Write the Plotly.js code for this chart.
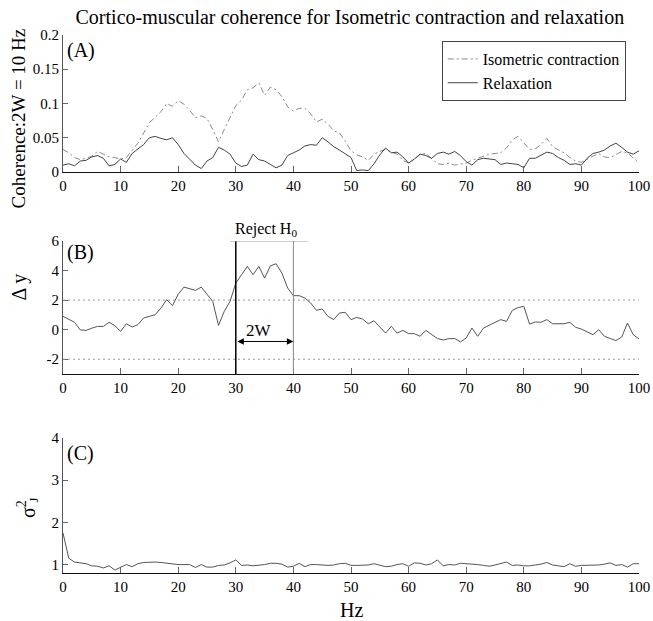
<!DOCTYPE html>
<html><head><meta charset="utf-8">
<script src="https://cdn.plot.ly/plotly-3.0.1.min.js"></script>
<style>html,body{margin:0;padding:0;background:#fff}#chart{width:653px;height:621px}</style>
</head><body><div id="chart"></div>
<script>
const freqHz = [0,1,2,3,4,5,6,7,8,9,10,11,12,13,14,15,16,17,18,19,20,21,22,23,24,25,26,27,28,29,30,31,32,33,34,35,36,37,38,39,40,41,42,43,44,45,46,47,48,49,50,51,52,53,54,55,56,57,58,59,60,61,62,63,64,65,66,67,68,69,70,71,72,73,74,75,76,77,78,79,80,81,82,83,84,85,86,87,88,89,90,91,92,93,94,95,96,97,98,99,100];

const isometricCoh = [0.033,0.028,0.021,0.018,0.020,0.023,0.030,0.026,0.022,0.021,0.019,0.021,0.032,0.042,0.057,0.072,0.080,0.088,0.100,0.096,0.104,0.099,0.090,0.079,0.082,0.078,0.062,0.044,0.062,0.080,0.097,0.105,0.120,0.123,0.130,0.112,0.124,0.120,0.110,0.095,0.089,0.093,0.093,0.085,0.073,0.077,0.070,0.060,0.057,0.045,0.031,0.025,0.022,0.017,0.026,0.030,0.033,0.029,0.026,0.017,0.013,0.018,0.026,0.027,0.020,0.012,0.011,0.013,0.010,0.012,0.013,0.017,0.020,0.022,0.026,0.027,0.028,0.035,0.047,0.052,0.043,0.033,0.034,0.040,0.049,0.037,0.032,0.028,0.021,0.016,0.014,0.019,0.023,0.027,0.022,0.021,0.026,0.030,0.028,0.021,0.013];

const relaxationCoh = [0.010,0.012,0.009,0.016,0.017,0.022,0.024,0.020,0.009,0.011,0.019,0.014,0.027,0.034,0.040,0.050,0.052,0.049,0.047,0.050,0.040,0.027,0.018,0.010,0.005,0.016,0.021,0.036,0.032,0.026,0.013,0.008,0.010,0.026,0.018,0.016,0.011,0.006,0.010,0.024,0.028,0.032,0.038,0.040,0.039,0.050,0.044,0.037,0.032,0.027,0.021,0.002,0.003,0.002,0.012,0.025,0.035,0.028,0.029,0.022,0.013,0.019,0.026,0.024,0.020,0.027,0.029,0.026,0.030,0.024,0.015,0.010,0.018,0.020,0.019,0.018,0.011,0.013,0.012,0.011,0.006,0.020,0.020,0.024,0.029,0.027,0.021,0.017,0.011,0.012,0.010,0.020,0.027,0.029,0.032,0.038,0.042,0.036,0.029,0.026,0.031];

const deltaY = [0.90,0.68,0.50,-0.02,-0.05,0.10,0.22,0.22,0.50,0.27,-0.12,0.40,0.18,0.34,0.79,0.90,1.01,1.46,2.03,1.62,2.40,2.88,2.75,2.66,2.88,2.40,1.91,0.29,1.24,1.91,3.15,3.72,4.28,3.72,4.28,3.49,4.32,4.46,3.83,2.82,2.30,2.30,2.14,1.80,1.31,1.40,0.90,0.68,1.13,1.17,0.68,0.83,0.72,0.40,0.60,0.18,-0.23,0.22,-0.23,-0.05,-0.27,-0.27,-0.45,-0.05,-0.34,-0.60,-0.70,-0.61,-0.60,-0.83,-0.56,0.11,-0.45,0.10,0.30,0.50,0.68,0.56,1.30,1.49,1.58,0.38,0.52,0.50,0.68,0.40,0.38,0.40,0.50,0.16,0.04,-0.15,-0.34,0.00,-0.45,-0.60,-0.74,-0.50,0.45,-0.34,-0.63];

const sigmaJ2 = [1.75,1.15,1.06,1.04,1.02,0.97,0.96,0.92,0.97,0.87,0.94,1.00,0.95,1.02,1.05,1.06,1.06,1.05,1.03,1.02,1.00,1.00,1.00,0.93,1.00,0.94,0.94,0.98,0.99,1.04,1.11,0.98,0.99,0.97,0.98,1.00,1.03,1.03,1.01,0.94,0.96,1.03,0.95,1.00,1.00,0.99,0.98,0.99,1.02,1.03,0.98,0.98,0.98,0.99,1.02,0.99,0.95,0.96,1.00,1.02,0.96,1.04,1.03,0.99,1.02,1.11,0.97,1.00,0.99,1.03,1.02,1.02,1.00,0.98,0.96,0.99,1.02,1.06,0.98,0.99,0.97,0.97,0.99,1.01,1.05,0.99,0.97,0.95,1.02,0.96,0.98,0.98,0.99,0.99,1.01,1.04,0.98,1.00,0.94,1.02,1.02];

const xTicks = [0,10,20,30,40,50,60,70,80,90,100];
const cohTicks = [0,0.05,0.1,0.15,0.2];
const cohTickText = ['0','0.05','0.1','0.15','0.2'];
const dyTicks = [-2,0,2,4,6];
const dyTickText = ['-2','0','2','4','6'];
const sigTicks = [1,2,3,4];
const thresholds = [2,-2];
const rejectStart = 30, rejectEnd = 40;
const rejectBarFrom = 29, rejectBarTo = 42.5;
const arrowLevel = -0.8;

const FONT = '"Liberation Serif", "Times New Roman", Times, serif';

const traces = [
  {x: freqHz, y: isometricCoh, xaxis:'x', yaxis:'y', mode:'lines', name:'Isometric contraction',
   line:{color:'#8a8a8a', width:1, dash:'6px,3px,2px,3px'}},
  {x: freqHz, y: relaxationCoh, xaxis:'x', yaxis:'y', mode:'lines', name:'Relaxation',
   line:{color:'#444', width:1}},
  {x: freqHz, y: deltaY, xaxis:'x2', yaxis:'y2', mode:'lines', showlegend:false,
   line:{color:'#555', width:1}},
  {x: freqHz, y: sigmaJ2, xaxis:'x3', yaxis:'y3', mode:'lines', showlegend:false,
   line:{color:'#555', width:1}}
];

function xa(anchor){
  return {anchor:anchor, range:[0,100], tickvals:xTicks, ticks:'inside', ticklen:6, tickcolor:'#666',
    showline:true, linecolor:'#111', linewidth:1, showgrid:false, zeroline:false,
    tickfont:{family:FONT, size:15, color:'#000'}, fixedrange:true};
}
function ya(anchor, dom, range, tv, tt){
  const o = {anchor:anchor, domain:dom, range:range, tickvals:tv, ticks:'inside', ticklen:5, tickcolor:'#666',
    showline:true, linecolor:'#555', linewidth:1, showgrid:false, zeroline:false,
    tickfont:{family:FONT, size:15, color:'#000'}};
  if (tt) o.ticktext = tt;
  return o;
}

const shapes = [];
thresholds.forEach(t => shapes.push({type:'line', xref:'x2', yref:'y2', x0:0, x1:100, y0:t, y1:t,
  line:{color:'#999', width:1, dash:'2px,3px'}}));
shapes.push({type:'line', xref:'x2', yref:'y2', x0:rejectStart, x1:rejectStart, y0:-3, y1:6, line:{color:'#000', width:1.5}});
shapes.push({type:'line', xref:'x2', yref:'y2', x0:rejectEnd, x1:rejectEnd, y0:-3, y1:6, line:{color:'#888', width:1}});
shapes.push({type:'line', xref:'x2', yref:'y2', x0:rejectBarFrom, x1:rejectBarTo, y0:6, y1:6, line:{color:'#999', width:1}});

const annotations = [
  {text:'(A)', xref:'paper', yref:'paper', x:0.004, y:0.972, xanchor:'left', yanchor:'middle', showarrow:false, font:{family:FONT, size:20, color:'#000'}},
  {text:'(B)', xref:'paper', yref:'paper', x:0.004, y:0.5957, xanchor:'left', yanchor:'middle', showarrow:false, font:{family:FONT, size:20, color:'#000'}},
  {text:'(C)', xref:'paper', yref:'paper', x:0.004, y:0.223, xanchor:'left', yanchor:'middle', showarrow:false, font:{family:FONT, size:20, color:'#000'}},
  {text:'Coherence:2W = 10 Hz', xref:'paper', yref:'paper', x:-0.078, y:0.845, xanchor:'center', yanchor:'middle', textangle:-90, showarrow:false, font:{family:FONT, size:19, color:'#000'}},
  {text:'Δ y', xref:'paper', yref:'paper', x:-0.075, y:0.532, xanchor:'center', yanchor:'middle', textangle:-90, showarrow:false, font:{family:FONT, size:20, color:'#000'}},
  {text:'σ<sup>2</sup>', xref:'paper', yref:'paper', x:-0.064, y:0.119, xanchor:'center', yanchor:'middle', textangle:-90, showarrow:false, font:{family:FONT, size:20, color:'#000'}},
  {text:'J', xref:'paper', yref:'paper', x:-0.051, y:0.136, xanchor:'center', yanchor:'middle', textangle:-90, showarrow:false, font:{family:FONT, size:13, color:'#000'}},
  {text:'Hz', xref:'paper', yref:'paper', x:0.5, y:-0.069, xanchor:'center', yanchor:'middle', showarrow:false, font:{family:FONT, size:20, color:'#000'}},
  {text:'Reject H<sub>0</sub>', xref:'x2', yref:'y2', x:35.3, y:6, xanchor:'center', yanchor:'bottom', yshift:0, showarrow:false, font:{family:FONT, size:16, color:'#000'}},
  {text:'2W', xref:'x2', yref:'y2', x:34, y:-0.05, xanchor:'center', yanchor:'middle', showarrow:false, font:{family:FONT, size:17, color:'#000'}},
  {text:'', xref:'x2', yref:'y2', x:rejectEnd, y:arrowLevel, axref:'x2', ayref:'y2', ax:rejectStart, ay:arrowLevel,
   showarrow:true, arrowhead:2, arrowside:'end+start', arrowsize:1.3, arrowwidth:1, arrowcolor:'#000', standoff:0, startstandoff:0}
];

const layout = {
  width:653, height:621,
  margin:{l:63, r:14, t:35, b:48},
  paper_bgcolor:'#fff', plot_bgcolor:'#fff',
  font:{family:FONT, color:'#000'},
  title:{text:'Cortico-muscular coherence for Isometric contraction and relaxation', xref:'paper', x:0.498, xanchor:'center',
    yref:'container', y:0.9726, yanchor:'middle', font:{family:FONT, size:20, color:'#000'}},
  xaxis: xa('y'),
  yaxis: ya('x', [0.7454,1.0], [0,0.2], cohTicks, cohTickText),
  xaxis2: xa('y2'),
  yaxis2: ya('x2', [0.3699,0.6171], [-3,6], dyTicks, dyTickText),
  xaxis3: xa('y3'),
  yaxis3: ya('x3', [0,0.2509], [0.8,4], sigTicks),
  showlegend:true,
  legend:{x:0.977, xanchor:'right', y:0.9888, yanchor:'top', bgcolor:'#fff', bordercolor:'#444', borderwidth:1,
    font:{family:FONT, size:16, color:'#000'}, tracegroupgap:0},
  shapes:shapes,
  annotations:annotations
};

Plotly.newPlot('chart', traces, layout, {displayModeBar:false, staticPlot:true});
</script></body></html>
